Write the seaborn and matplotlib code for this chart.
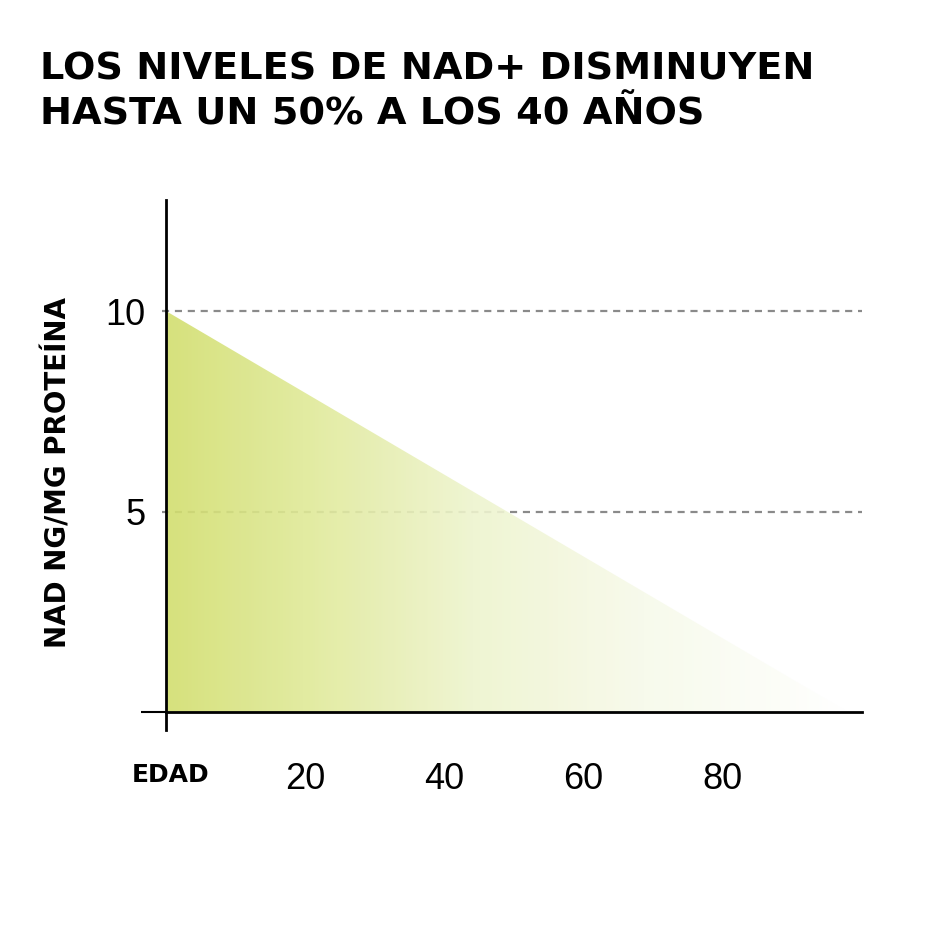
import numpy as np
import matplotlib
matplotlib.use('Agg')
import matplotlib.pyplot as plt
from matplotlib.colors import LinearSegmentedColormap
import seaborn as sns
import pandas as pd

# datos
edad = [0, 98]
nad = [10, 0]
yticks = [5, 10]
xticks = [20, 40, 60, 80]
titulo = "LOS NIVELES DE NAD+ DISMINUYEN\nHASTA UN 50% A LOS 40 AÑOS"

df = pd.DataFrame({'edad': edad, 'nad': nad})

sns.set_style('white')
plt.rcParams['font.family'] = ['DejaVu Sans']
plt.rcParams['text.color'] = 'black'
plt.rcParams['axes.labelcolor'] = 'black'
plt.rcParams['xtick.color'] = 'black'
plt.rcParams['ytick.color'] = 'black'

fig = plt.figure(figsize=(9.3, 9.3), dpi=100)
ax = fig.add_axes([166 / 930, 200 / 930, 696 / 930, 530 / 930])

# lineas de referencia
for v in yticks:
    ax.axhline(v, xmin=-0.006, xmax=1, color='#8a8a8a', lw=1.6,
               dashes=(3.2, 2.6), zorder=1, clip_on=False)

# borde del triangulo
sns.lineplot(data=df, x='edad', y='nad', ax=ax, lw=0, color='#d7e27c')

# relleno con degradado
poly = ax.fill_between(df['edad'], df['nad'], 0, facecolor='none', lw=0)
cmap = LinearSegmentedColormap.from_list('nad', [
    (0.0, '#d2de6e'), (0.2, '#dfe996'), (0.45, '#eef4ce'),
    (0.7, '#f7faea'), (1.0, '#ffffff')])
grad = np.linspace(0, 1, 256).reshape(1, -1)
img = ax.imshow(grad, cmap=cmap, aspect='auto', zorder=2, alpha=0.9,
                extent=[min(edad), max(edad), 0, max(nad)])
img.set_clip_path(poly.get_paths()[0], transform=ax.transData)

ax.set_xlim(0, 100)
ax.set_ylim(-0.45, 12.77)

sns.despine(ax=ax, top=True, right=True)
ax.spines['bottom'].set_position(('data', 0))
for s in ['left', 'bottom']:
    ax.spines[s].set_color('black')
    ax.spines[s].set_linewidth(2)
    ax.spines[s].set_zorder(3)

ax.set_yticks(yticks)
ax.set_yticklabels([str(v) for v in yticks], family='Liberation Sans', fontsize=26)
ax.set_yticks([0], minor=True)
ax.tick_params(axis='y', which='major', length=0, pad=15)
ax.tick_params(axis='y', which='minor', length=18, width=1.5, color='black', left=True)

ax.set_xticks(xticks)
ax.set_xticklabels([str(v) for v in xticks], family='Liberation Sans', fontsize=26)
ax.tick_params(axis='x', which='major', length=0, pad=36)

ax.set_xlabel('EDAD', fontsize=18, fontweight='bold')
ax.xaxis.set_label_coords(0.006, -0.063)
ax.set_ylabel('NAD NG/MG PROTEÍNA', fontsize=20, fontweight='bold')
ax.yaxis.set_label_coords(-0.134, 0.485)

fig.text(40 / 930, 1 - 51 / 930, titulo, fontsize=27.5, fontweight='bold',
         va='top', ha='left', linespacing=1.34)

fig.savefig('out.png', dpi=100, facecolor='white')
